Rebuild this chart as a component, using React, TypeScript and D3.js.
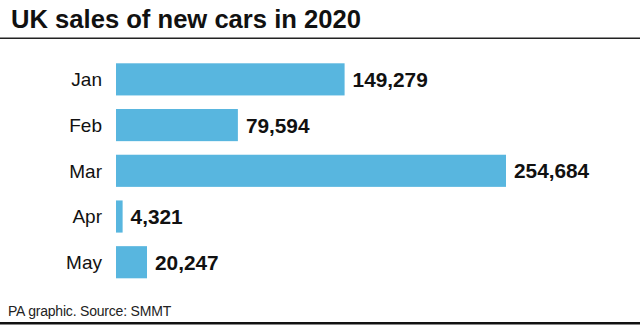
import React from "react";
import * as d3 from "d3";

const title = "UK sales of new cars in 2020";
const source = "PA graphic. Source: SMMT";
const months = ["Jan", "Feb", "Mar", "Apr", "May"];
const sales = [149279, 79594, 254684, 4321, 20247];

const W = 640;
const H = 330;
const FONT = "'Liberation Sans', Arial, Helvetica, sans-serif";

export default function App() {
  const x = d3.scaleLinear().domain([0, d3.max(sales) as number]).range([116, 506]);
  const y = d3.scaleBand<string>().domain(months).range([63.3, 278.3]).paddingInner(0.297).paddingOuter(0);
  const fmt = d3.format(",");

  return (
    <svg
      width={W}
      height={H}
      viewBox={`0 0 ${W} ${H}`}
      style={{ position: "absolute", left: 0, top: 0, background: "#fff" }}
      fontFamily={FONT}
    >
      <text x={11} y={28.3} fontSize={25.6} fontWeight="bold" fill="#111">
        {title}
      </text>
      <line x1={0} x2={640} y1={38.3} y2={38.3} stroke="#222" strokeWidth={1.6} />

      {months.map((m, i) => {
        const yy = y(m) as number;
        const bw = y.bandwidth();
        const xe = x(sales[i]);
        return (
          <g key={m}>
            <rect x={x(0)} y={yy} width={xe - x(0)} height={bw} fill="#58b6df" />
            <text
              x={102}
              y={yy + bw / 2}
              dy="0.36em"
              textAnchor="end"
              fontSize={19}
              fill="#111"
            >
              {m}
            </text>
            <text
              x={xe + 8}
              y={yy + bw / 2}
              dy="0.36em"
              fontSize={20.8}
              fontWeight="bold"
              fill="#111"
            >
              {fmt(sales[i])}
            </text>
          </g>
        );
      })}

      <text x={8} y={315.5} fontSize={14} fill="#222" letterSpacing={-0.2}>
        {source}
      </text>
      <line x1={0} x2={640} y1={323.3} y2={323.3} stroke="#111" strokeWidth={2.4} />
    </svg>
  );
}
